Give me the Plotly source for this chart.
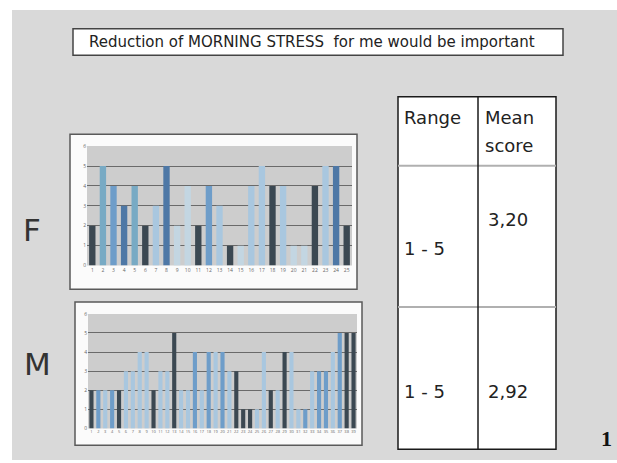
import plotly.graph_objects as go

W, H = 617, 463

# ---- data ----
title_text = "Reduction of MORNING STRESS  for me would be important"
f_categories = [str(i) for i in range(1, 26)]
f_values = [2, 5, 4, 3, 4, 2, 3, 5, 2, 4, 2, 4, 3, 1, 1, 4, 5, 4, 4, 1, 1, 4, 5, 5, 2]
m_categories = [str(i) for i in range(1, 40)]
m_values = [2, 2, 2, 2, 2, 3, 3, 4, 4, 2, 3, 3, 5, 2, 2, 4, 2, 4, 4, 4, 3, 3, 1, 1, 1,
            4, 2, 2, 4, 4, 1, 1, 3, 3, 3, 4, 5, 5, 5]
y_ticks = [0, 1, 2, 3, 4, 5, 6]
table_header = ["Range", "Mean", "score"]
table_range = ["1 - 5", "1 - 5"]
table_mean = ["3,20", "2,92"]
group_labels = ["F", "M"]
page_number = "1"

# ---- styles ----
D = "#3b4852"; B = "#6e9dc9"; S = "#4e78a6"; C = "#78aac4"; L = "#a9c7df"; P = "#c3d6e2"
f_colors = [D, C, B, S, C, D, L, S, P, P, D, B, L, D, P, L, L, D, L, P, P, D, L, S, D]
m_colors = [D, B, L, B, D, L, L, L, L, D, L, L, D, L, L, B, L, B, L, B, L, D, D, D, L,
            L, D, L, D, L, L, B, L, B, B, L, B, D, D]

def fx(px):
    return px / W

def fy(py):
    return 1 - py / H

fig = go.Figure()
fig.add_trace(go.Bar(x=f_categories, y=f_values, marker=dict(color=f_colors, line=dict(width=0)),
                     xaxis="x", yaxis="y", showlegend=False))
fig.add_trace(go.Bar(x=m_categories, y=m_values, marker=dict(color=m_colors, line=dict(width=0)),
                     xaxis="x2", yaxis="y2", showlegend=False))

axis_common = dict(showline=False, zeroline=False, tickfont=dict(size=5, color="#666"),
                   ticks="", fixedrange=True, tickangle=0)
yaxis_common = dict(axis_common, range=[0, 6], tickvals=y_ticks, showgrid=True,
                    gridcolor="#6a6a6a", gridwidth=1)

shapes = []
# slide background
shapes.append(dict(type="rect", xref="paper", yref="paper", x0=fx(12), x1=1, y0=0, y1=fy(7),
                   fillcolor="#d9d9d9", line=dict(width=0), layer="below"))
# title box
shapes.append(dict(type="rect", xref="paper", yref="paper", x0=fx(73), x1=fx(563), y0=fy(53), y1=fy(26),
                   fillcolor="white", line=dict(color="#444", width=1.5), layer="below"))
# chart boxes
for (x0, x1, y0, y1) in [(70, 357, 133, 290), (75, 362, 303, 448)]:
    shapes.append(dict(type="rect", xref="paper", yref="paper", x0=fx(x0), x1=fx(x1), y0=fy(y1), y1=fy(y0),
                       fillcolor="#fbfbfb", line=dict(color="#5a5a5a", width=1.5), layer="below"))
# plot area backgrounds
for xr, yr in [("x", "y"), ("x2", "y2")]:
    shapes.append(dict(type="rect", xref=xr + " domain", yref=yr + " domain", x0=0, x1=1, y0=0, y1=1,
                       fillcolor="#cdcdcd", line=dict(width=0), layer="below"))
# table
tx0, tx1, tmid = 398, 556, 478
ty0, ty1, r1, r2 = 95, 452, 165, 308
shapes.append(dict(type="rect", xref="paper", yref="paper", x0=fx(tx0), x1=fx(tx1), y0=fy(ty1), y1=fy(ty0),
                   fillcolor="white", line=dict(color="#1a1a1a", width=1.5)))
for ry in (r1, r2):
    shapes.append(dict(type="line", xref="paper", yref="paper", x0=fx(tx0), x1=fx(tx1), y0=fy(ry), y1=fy(ry),
                       line=dict(color="#b0b0b0", width=2)))
shapes.append(dict(type="line", xref="paper", yref="paper", x0=fx(tmid), x1=fx(tmid), y0=fy(ty1), y1=fy(ty0),
                   line=dict(color="#1a1a1a", width=1.5)))

FONT = "DejaVu Sans"
ann = []
def text(s, px, py, size, anchor="left", color="#222", family=FONT):
    ann.append(dict(text=s, x=fx(px), y=fy(py), xref="paper", yref="paper", showarrow=False,
                    xanchor=anchor, yanchor="middle", font=dict(size=size, color=color, family=family)))

text(title_text, 312, 40, 15, anchor="center")
text(group_labels[0], 32, 230, 31, anchor="center", color="#333")
text(group_labels[1], 37, 366, 31, anchor="center", color="#333")
text(table_header[0], 402, 116, 18)
text(table_header[1], 483, 116, 18)
text(table_header[2], 483, 144, 18)
text(table_range[0], 402, 249, 18)
text(table_mean[0], 486, 219, 18)
text(table_range[1], 402, 394, 18)
text(table_mean[1], 486, 394, 18)
text("<b>" + page_number + "</b>", 606, 441, 22, anchor="center", color="#111", family="Liberation Serif")

fig.update_layout(
    width=W, height=H, margin=dict(l=0, r=0, t=0, b=0),
    paper_bgcolor="white", plot_bgcolor="rgba(0,0,0,0)",
    bargap=0.4,
    xaxis=dict(axis_common, domain=[fx(87), fx(352)], anchor="y", showgrid=False),
    yaxis=dict(yaxis_common, domain=[fy(266), fy(145)], anchor="x"),
    xaxis2=dict(axis_common, domain=[fx(88), fx(357)], anchor="y2", showgrid=False,
                tickfont=dict(size=4, color="#666")),
    yaxis2=dict(yaxis_common, domain=[fy(431), fy(315)], anchor="x2"),
    shapes=shapes, annotations=ann,
)
fig.write_html("out.html", config={"displayModeBar": False},
               post_script="document.body.style.margin='0';document.body.style.overflow='hidden';")
